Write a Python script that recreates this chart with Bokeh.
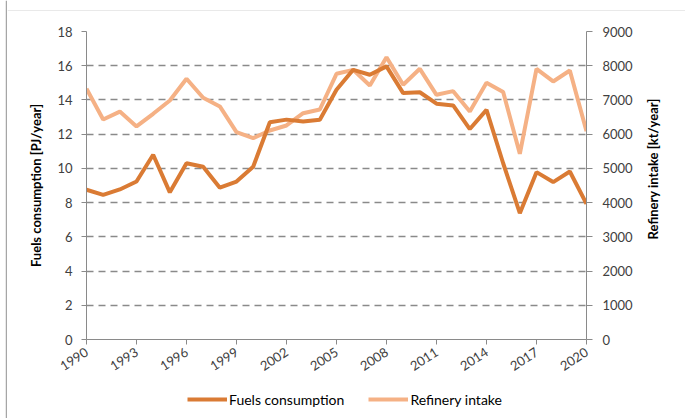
import math
from bokeh.plotting import figure
from bokeh.layouts import column, row
from bokeh.models import LinearAxis, Range1d, FixedTicker, Legend, LegendItem, ColumnDataSource, Label, Span
from bokeh.embed import file_html
from bokeh.resources import INLINE

years = list(range(1990, 2021))
fuels_pj = [8.75, 8.45, 8.77, 9.23, 10.8, 8.6, 10.3, 10.1, 8.87, 9.23,
            10.1, 12.7, 12.85, 12.74, 12.84, 14.6, 15.76, 15.47, 15.96, 14.4,
            14.45, 13.78, 13.68, 12.3, 13.42, 10.3, 7.38, 9.78, 9.2, 9.82, 7.93]
refinery_kt = [7330, 6430, 6660, 6225, 6595, 6985, 7620, 7063, 6810, 6060,
               5883, 6108, 6254, 6613, 6721, 7764, 7880, 7422, 8250, 7443,
               7910, 7150, 7257, 6663, 7500, 7230, 5426, 7910, 7540, 7860, 6088]
x_ticks = list(range(1990, 2021, 3))
left_ticks = list(range(0, 19, 2))
right_ticks = list(range(0, 9001, 1000))
series_names = ["Fuels consumption", "Refinery intake"]
left_title = "Fuels consumption [PJ/year]"
right_title = "Refinery intake [kt/year]"

FONT = "Lato"
DARK = "#DA7B34"
LIGHT = "#F5B185"
GRID = "#8A8A8A"
FRAME = "#A6A6A6"
TXT = "#404040"

src = ColumnDataSource(dict(year=years, fuels=fuels_pj, refinery=refinery_kt))


def blank(width, height, xr, yr):
    f = figure(width=width, height=height, output_backend="svg", toolbar_location=None,
               x_range=Range1d(*xr), y_range=Range1d(*yr),
               min_border=0, min_border_left=0, min_border_right=0,
               min_border_top=0, min_border_bottom=0)
    f.axis.visible = False
    f.grid.visible = False
    f.outline_line_color = None
    return f


# ---------------- main chart ----------------
p = figure(width=633, height=379, output_backend="svg", toolbar_location=None,
           x_range=Range1d(1990, 2020), y_range=Range1d(0, 18),
           min_border_left=79, min_border_top=20, min_border_right=54, min_border_bottom=51)
p.outline_line_color = None
p.background_fill_color = "white"
p.border_fill_color = "white"
p.extra_y_ranges = {"right": Range1d(0, 9000)}

r2 = p.line("year", "refinery", source=src, y_range_name="right", line_color=LIGHT, line_width=4)
r1 = p.line("year", "fuels", source=src, line_color=DARK, line_width=4)

for ax in (p.xaxis[0], p.yaxis[0]):
    ax.axis_line_color = GRID
    ax.major_tick_line_color = GRID
    ax.minor_tick_line_color = None
    ax.major_tick_in = 0
    ax.major_tick_out = 5
    ax.major_label_text_font = FONT
    ax.major_label_text_font_size = "13px"
    ax.major_label_text_color = TXT

p.xaxis[0].ticker = FixedTicker(ticks=x_ticks)
p.xaxis[0].major_label_orientation = math.radians(33)
p.xaxis[0].major_label_standoff = 6

p.yaxis[0].ticker = FixedTicker(ticks=left_ticks)
p.yaxis[0].major_label_standoff = 9
p.yaxis[0].axis_label = left_title
p.yaxis[0].axis_label_text_font = FONT
p.yaxis[0].axis_label_text_font_style = "bold"
p.yaxis[0].axis_label_text_font_size = "13px"
p.yaxis[0].axis_label_text_color = "black"
p.yaxis[0].axis_label_standoff = 10

ra = LinearAxis(y_range_name="right", ticker=FixedTicker(ticks=right_ticks))
ra.axis_line_color = GRID
ra.major_tick_line_color = GRID
ra.minor_tick_line_color = None
ra.major_tick_in = 0
ra.major_tick_out = 6
ra.major_label_standoff = 10
ra.major_label_text_font = FONT
ra.major_label_text_font_size = "13px"
ra.major_label_text_color = TXT
p.add_layout(ra, "right")

p.xgrid.grid_line_color = None
p.ygrid.ticker = FixedTicker(ticks=left_ticks[1:])
p.ygrid.grid_line_color = GRID
p.ygrid.grid_line_dash = "7 5"
p.ygrid.grid_line_width = 1.4

# ---------------- right axis title (reads bottom-to-top) ----------------
rt = blank(45, 379, (0, 45), (0, 379))
rt.add_layout(Label(x=12, y=210, text=right_title, angle=math.pi / 2,
                    text_align="center", text_baseline="middle",
                    text_font=FONT, text_font_style="bold", text_font_size="13px",
                    text_color="black"))

# ---------------- legend strip ----------------
lg = blank(678, 28, (0, 678), (0, 28))
# swatch renderers: placed outside the visible range so only the legend shows them
g1 = lg.line(x=[-50, -40], y=[-50, -50], line_color=DARK, line_width=4)
g2 = lg.line(x=[-50, -40], y=[-50, -50], line_color=LIGHT, line_width=4)
legend = Legend(items=[LegendItem(label=series_names[0], renderers=[g1]),
                       LegendItem(label=series_names[1], renderers=[g2])],
                orientation="horizontal", location=(180, 10),
                glyph_width=40, glyph_height=18, label_standoff=2, spacing=24,
                padding=0, margin=0, border_line_color=None, background_fill_alpha=0,
                label_text_font=FONT, label_text_font_size="14px", label_text_color="black")
lg.add_layout(legend, "center")

# ---------------- outer chart-area frame (top and left edges) ----------------
top_strip = blank(678, 11, (0, 678), (0, 11))
top_strip.add_layout(Span(location=1, dimension="width", line_color=FRAME, line_width=1.5))
left_strip = blank(7, 418, (0, 7), (0, 418))
left_strip.add_layout(Span(location=6, dimension="height", line_color=FRAME, line_width=1.5))

layout = row(left_strip,
             column(top_strip, row(p, rt, spacing=0), lg, spacing=0),
             spacing=0)
open("out.html", "w").write(file_html(layout, INLINE))
